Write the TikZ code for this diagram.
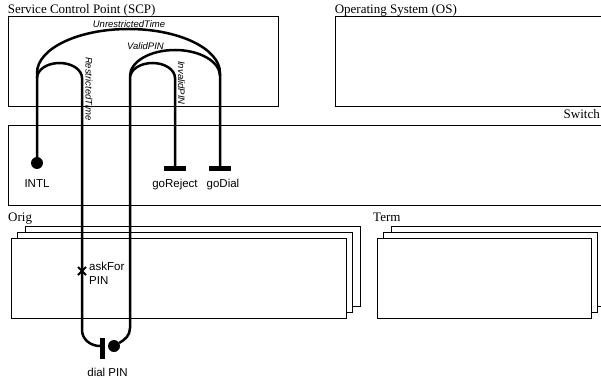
\documentclass[tikz,border=0pt]{standalone}
\usepackage{fontspec}
\setmainfont{Liberation Serif}
\setsansfont{Liberation Sans}
\usetikzlibrary{positioning}

\begin{document}
\begin{tikzpicture}[x=1pt, y=-1pt,
        box/.style={draw, line width=0.8pt, fill=white, inner sep=0pt},
        sig/.style={line width=2.5pt},
        ttl/.style={font=\fontsize{13}{15}\selectfont, inner sep=0pt},
        lbl/.style={font=\sffamily\fontsize{11.5}{14}\selectfont, inner sep=0pt},
        msg/.style={font=\sffamily\itshape\fontsize{9.5}{11}\selectfont, inner sep=0pt}]
    \useasboundingbox (0,0) rectangle (601,379);

    % blocs
    \node[box, minimum width=270pt, minimum height=90pt] (scp) at (143,61) {};
    \node[box, minimum width=270pt, minimum height=90pt] (os) at (470,61) {};
    \node[box, minimum width=597pt, minimum height=80pt] (switch) at (306.5,165) {};
    \foreach \dx/\dy in {14/12, 6/6} {
        \draw[box] (11+\dx,238-\dy) rectangle (346+\dx,318-\dy);
        \draw[box] (377+\dx,238-\dy) rectangle (591+\dx,318-\dy);
    }
    \node[box, minimum width=335pt, minimum height=80pt] (orig) at (178.5,278) {};
    \node[box, minimum width=214pt, minimum height=80pt] (term) at (484,278) {};

    \node[ttl, anchor=base west] (scplbl) at ([yshift=2pt]scp.north west) {Service Control Point (SCP)};
    \node[ttl, anchor=base west] (oslbl) at ([yshift=2pt]os.north west) {Operating System (OS)};
    \node[ttl, anchor=base east] (switchlbl) at (600,119) {Switch};
    \node[ttl, anchor=base west] (origlbl) at (8,221) {Orig};
    \node[ttl, anchor=base west] (termlbl) at (373,221) {Term};

    % points
    \coordinate (intl) at (37,163);
    \coordinate (rej) at (175,169);
    \coordinate (dial) at (220,169);
    \coordinate (ask) at (82,271);
    \coordinate (bar) at (102.5,348.5);
    \coordinate (dot) at (114,346);

    % chemins
    \draw[sig] ([yshift=5pt]intl) -- (37,73) arc[start angle=180, end angle=0, x radius=91.5pt, y radius=44pt] -- (dial);
    \draw[sig] (37,78) arc[start angle=180, end angle=0, x radius=22.5pt, y radius=15pt]
        -- (82,330) to[out=-90, in=180] ([xshift=-2.5pt, yshift=2.5pt]bar);
    \draw[sig] ([shift={(5.2pt,3pt)}]dot) to[out=30, in=-90] (130,328) -- (130,78)
        arc[start angle=180, end angle=0, x radius=22.5pt, y radius=15pt] -- (rej);
    \draw[sig] (130,76) arc[start angle=180, end angle=0, x radius=45pt, y radius=26pt];

    % terminaisons
    \fill (intl) circle (6pt);
    \draw[line width=5pt] ([xshift=-11pt]rej) -- ([xshift=11pt]rej);
    \draw[line width=5pt] ([xshift=-11pt]dial) -- ([xshift=11pt]dial);
    \draw[line width=5pt] ([yshift=10.5pt]bar) -- ([yshift=-10.5pt]bar);
    \fill (dot) circle (6pt);
    \draw[line width=1.8pt] ([shift={(-4pt,-4pt)}]ask) -- ([shift={(4pt,4pt)}]ask);
    \draw[line width=1.8pt] ([shift={(-4pt,4pt)}]ask) -- ([shift={(4pt,-4pt)}]ask);

    % textes
    \node[lbl, anchor=base] (intllbl) at (37,188) {INTL};
    \node[lbl, anchor=base] (rejlbl) at (175,188) {goReject};
    \node[lbl, anchor=base] (diallbl) at (223,188) {goDial};
    \node[lbl, anchor=west, align=left] (asklbl) at (89,273) {askFor\\PIN};
    \node[lbl, anchor=base] (pinlbl) at (107.5,376) {dial PIN};

    \node[msg] (unres) at (129,24.5) {UnrestrictedTime};
    \node[msg] (valid) at (145.5,46.5) {ValidPIN};
    \node[msg, rotate=-90] (restr) at (89,89) {RestrictedTime};
    \node[msg, rotate=-90] (inval) at (181.5,83) {InvalidPIN};
\end{tikzpicture}
\end{document}
